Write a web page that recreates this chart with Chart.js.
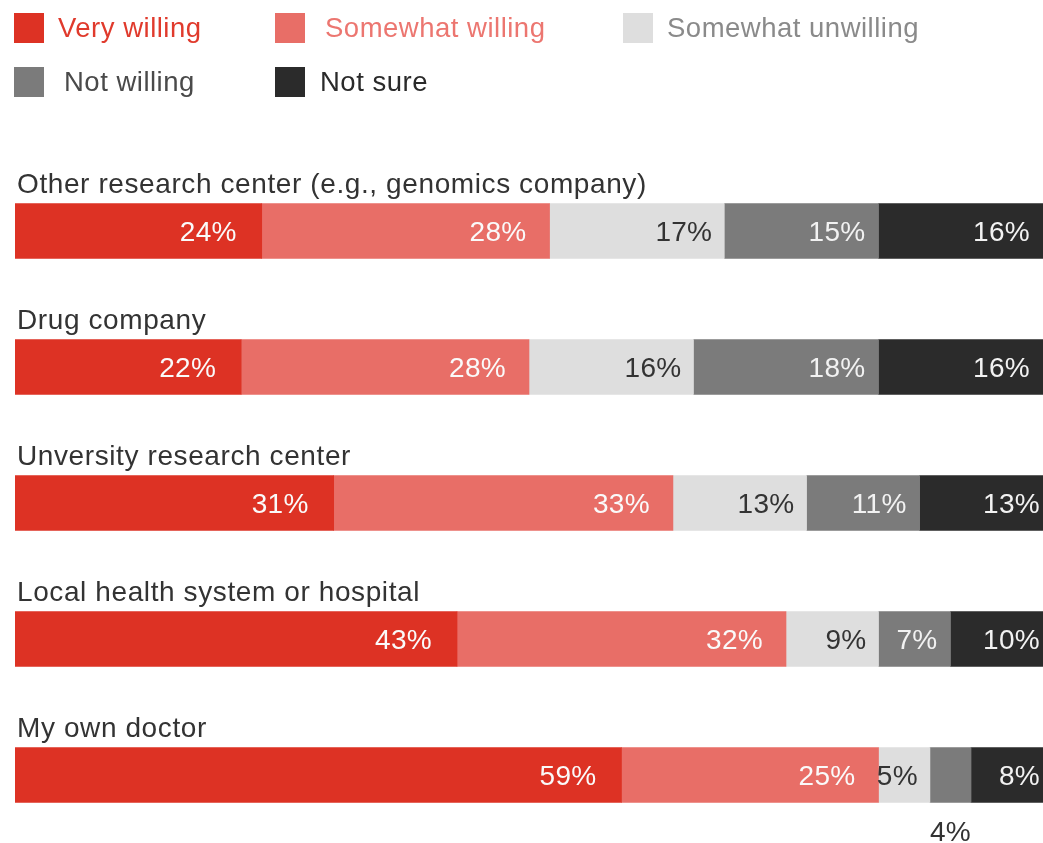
<!DOCTYPE html>
<html>
<head>
<meta charset="utf-8">
<script src="https://cdn.jsdelivr.net/npm/chart.js@4"></script>
<style>
  html, body { margin: 0; padding: 0; background: #fff; }
  #wrap { width: 1043px; height: 843px; }
</style>
</head>
<body>
<div id="wrap"><canvas id="myChart" width="1043" height="843"></canvas></div>
<script>
// categories (top to bottom) and answer groups
const categories = [
  'Other research center (e.g., genomics company)',
  'Drug company',
  'Unversity research center',
  'Local health system or hospital',
  'My own doctor'
];
const seriesNames = ['Very willing', 'Somewhat willing', 'Somewhat unwilling', 'Not willing', 'Not sure'];

// share of respondents, %
const veryWilling       = [24, 22, 31, 43, 59];
const somewhatWilling   = [28, 28, 33, 32, 25];
const somewhatUnwilling = [17, 16, 13, 9, 5];
const notWilling        = [15, 18, 11, 7, 4];
const notSure           = [16, 16, 13, 10, 8];

const barColors   = ['#dd3224', '#e86e67', '#dedede', '#7b7b7b', '#2b2b2b'];
const legendText  = ['#e03a2c', '#ec7670', '#8a8a8a', '#4a4a4a', '#2a2a2a'];
const valueColors = ['#fafafa', '#fafafa', '#333333', '#f2f2f2', '#f2f2f2'];
const valuePad    = [25, 23, 12, 13, 13];

const FONT = '"Helvetica Neue", Helvetica, Arial, "Liberation Sans", sans-serif';

const allSeries = [veryWilling, somewhatWilling, somewhatUnwilling, notWilling, notSure];

//legend grid: 3 columns, 2 rows
const legendSpots = [
  { x: 14, y: 13, tx: 58 },
  { x: 275, y: 13, tx: 325 },
  { x: 623, y: 13, tx: 667 },
  { x: 14, y: 67, tx: 64 },
  { x: 275, y: 67, tx: 320 }
];

const drawExtras = {
  id: 'drawExtras',
  afterDatasetsDraw(chart) {
    const ctx = chart.ctx;
    const area = chart.chartArea;
    ctx.save();
    ctx.textBaseline = 'alphabetic';

    // legend
    ctx.font = '27.5px ' + FONT;
    ctx.letterSpacing = '0.5px';
    ctx.textAlign = 'left';
    seriesNames.forEach((name, i) => {
      const s = legendSpots[i];
      ctx.fillStyle = barColors[i];
      ctx.fillRect(s.x, s.y, 30, 30);
      ctx.fillStyle = legendText[i];
      ctx.fillText(name, s.tx, s.y + 24);
    });

    // category titles above each bar
    const first = chart.getDatasetMeta(0).data;
    ctx.font = '28px ' + FONT;
    ctx.letterSpacing = '0.6px';
    ctx.fillStyle = '#333333';
    first.forEach((bar, j) => {
      ctx.fillText(categories[j], 17, bar.y - bar.height / 2 - 11);
    });

    // value labels, right aligned in each segment
    ctx.font = '28px ' + FONT;
    ctx.letterSpacing = '0.3px';
    chart.data.datasets.forEach((ds, i) => {
      chart.getDatasetMeta(i).data.forEach((bar, j) => {
        const txt = ds.data[j] + '%';
        const w = ctx.measureText(txt).width;
        const segW = Math.min(bar.x, area.right) - bar.base;
        if (segW < w + 8) {
          // too narrow, put it under the bar
          ctx.textAlign = 'center';
          ctx.fillStyle = '#333333';
          ctx.fillText(txt, (bar.base + bar.x) / 2, bar.y + bar.height / 2 + 38);
        } else {
          ctx.textAlign = 'right';
          ctx.fillStyle = valueColors[i];
          ctx.fillText(txt, Math.min(bar.x - valuePad[i], area.right - 3), bar.y + 9.5);
        }
      });
    });
    ctx.restore();
  }
};

new Chart(document.getElementById('myChart'), {
  type: 'bar',
  data: {
    labels: categories,
    datasets: allSeries.map((vals, i) => ({
      label: seriesNames[i],
      data: vals,
      backgroundColor: barColors[i],
      borderWidth: 0,
      barThickness: 55
    }))
  },
  options: {
    responsive: false,
    animation: false,
    indexAxis: 'y',
    layout: { padding: { top: 163, left: 15, right: 0, bottom: 0 } },
    scales: {
      x: { stacked: true, min: 0, max: 100, display: false },
      y: { stacked: true, display: false }
    },
    plugins: {
      legend: { display: false },
      tooltip: { enabled: false }
    }
  },
  plugins: [drawExtras]
});
</script>
</body>
</html>
